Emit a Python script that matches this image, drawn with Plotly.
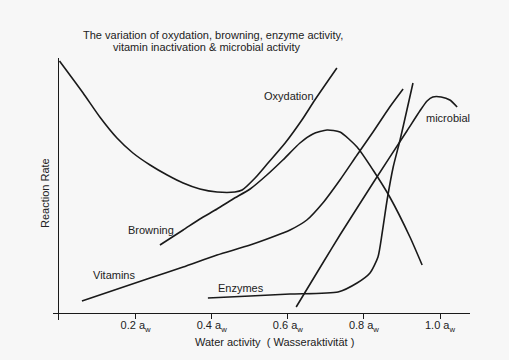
import plotly.graph_objects as go

# ---- data (water activity a_w, relative reaction rate) ----
oxy_x = [0.0, 0.062, 0.106, 0.151, 0.193, 0.238, 0.283, 0.325, 0.369, 0.414, 0.461, 0.480, 0.514, 0.548, 0.593, 0.637, 0.671, 0.729]
oxy_y = [100.8, 88, 78.4, 70, 64, 59.2, 55.2, 52, 49.6, 48.4, 48.4, 49.2, 54, 60, 68, 77.2, 85.2, 98]

brown_x = [0.264, 0.325, 0.369, 0.414, 0.456, 0.501, 0.545, 0.587, 0.632, 0.666, 0.703, 0.737, 0.782, 0.824, 0.868, 0.921, 0.953]
brown_y = [27.2, 33.2, 37.6, 41.6, 45.6, 49.6, 55.2, 61.2, 68, 71.6, 73.2, 72.4, 66.4, 57.2, 46.4, 30.4, 19.2]

vit_x = [0.059, 0.238, 0.325, 0.414, 0.501, 0.587, 0.606, 0.650, 0.692, 0.737, 0.782, 0.824, 0.868, 0.903]
vit_y = [4.8, 14, 18.4, 23.2, 27.2, 32, 33.2, 37.2, 44, 53.2, 63.2, 72.4, 82.4, 89.6]

enz_x = [0.390, 0.501, 0.606, 0.732, 0.782, 0.816, 0.837, 0.848, 0.861, 0.877, 0.895, 0.913, 0.929]
enz_y = [6, 6.8, 7.6, 8.4, 12, 16, 22.4, 32, 45.2, 58.4, 69.2, 81.2, 92]

mic_x = [0.622, 0.692, 0.737, 0.824, 0.913, 0.947, 0.966, 0.981, 1.003, 1.026, 1.045]
mic_y = [2.4, 20, 31.2, 52, 72.8, 80.8, 84.8, 86.4, 86.4, 85.2, 82.4]

tick_vals = [0.2, 0.4, 0.6, 0.8, 1.0]
tick_text = ["0.2 a<sub>w</sub>", "0.4 a<sub>w</sub>", "0.6 a<sub>w</sub>", "0.8 a<sub>w</sub>", "1.0 a<sub>w</sub>"]

curve_labels = ["Oxydation", "microbial", "Browning", "Vitamins", "Enzymes"]
label_x = [0.603, 1.021, 0.241, 0.143, 0.477]
label_y = [86.8, 78, 33.2, 15.2, 10]

LINE = "#1a1a1a"
TXT = "#222222"
BG = "#f7f7f7"
FONT = "Liberation Sans, Arial, sans-serif"

fig = go.Figure()
for xs, ys in [(oxy_x, oxy_y), (brown_x, brown_y), (vit_x, vit_y), (enz_x, enz_y), (mic_x, mic_y)]:
    fig.add_trace(go.Scatter(x=xs, y=ys, mode="lines",
                             line=dict(color=LINE, width=1.6, shape="spline", smoothing=0.6),
                             showlegend=False, hoverinfo="skip"))

def ann(text, x, y, xref="paper", yref="paper", **kw):
    return dict(text=text, x=x, y=y, xref=xref, yref=yref, showarrow=False,
                xanchor="center", yanchor="middle",
                font=dict(size=11, color=TXT, family=FONT), **kw)

annotations = [ann(t, x, y, "x", "y") for t, x, y in zip(curve_labels, label_x, label_y)]
annotations += [
    ann("The variation of oxydation, browning, enzyme activity,", 0.384, 1.088),
    ann("vitamin inactivation &amp; microbial activity", 0.369, 1.042),
    ann("Water activity  ( Wasseraktivität )", 0.53, -0.084),
    ann("Reaction Rate", -0.019, 0.485, textangle=-90),
]

xr = [(53 - 59.5) / 380.5, (470 - 59.5) / 380.5]
yr = [-2.8, 102]
xpos = (320 - 313) / 262

fig.update_layout(
    width=509, height=360,
    margin=dict(l=53, r=39, t=58, b=40, pad=0, autoexpand=False),
    paper_bgcolor=BG, plot_bgcolor=BG,
    font=dict(family=FONT, size=11, color=TXT),
    xaxis=dict(range=xr, domain=[0, 1], anchor="free", position=xpos, automargin=False,
               showline=True, linecolor=LINE, linewidth=1.3,
               ticks="outside", ticklen=5, tickcolor=LINE, tickwidth=1.2,
               ticklabelstandoff=-3,
               tickvals=tick_vals, ticktext=tick_text, tickfont=dict(size=11, color=TXT, family=FONT),
               showgrid=False, zeroline=False, fixedrange=True),
    xaxis2=dict(range=xr, domain=[0, 1], anchor="free", position=xpos, overlaying="x",
                automargin=False, showline=False, ticks="inside", ticklen=4,
                tickcolor=LINE, tickwidth=1.2, tickvals=tick_vals, showticklabels=False,
                showgrid=False, zeroline=False, fixedrange=True),
    yaxis=dict(range=yr, domain=[0, 1], anchor="free", position=(57.5 - 53) / 417, automargin=False,
               showline=True, linecolor=LINE, linewidth=1.3,
               ticks="", showticklabels=False, showgrid=False, zeroline=False, fixedrange=True),
    annotations=annotations,
)

fig.write_html("out.html", config={"displayModeBar": False},
               post_script="document.body.style.margin='0';document.body.style.background='#f7f7f7';document.body.style.overflow='hidden';")
